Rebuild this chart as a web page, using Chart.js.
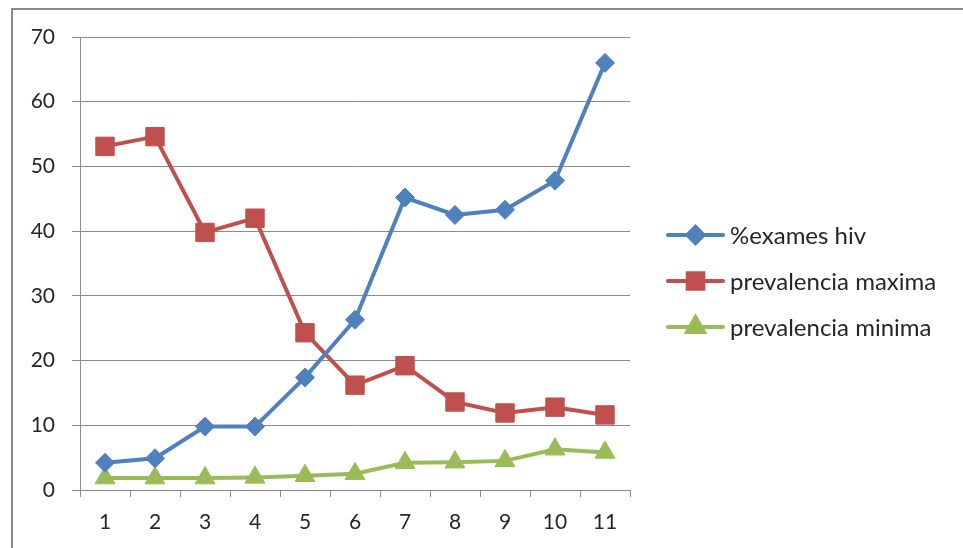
<!DOCTYPE html>
<html>
<head>
<meta charset="utf-8">
<script src="https://cdn.jsdelivr.net/npm/chart.js@4"></script>
<style>
  html, body { margin: 0; padding: 0; background: #ffffff; }
  #wrap { width: 963px; height: 548px; }
</style>
</head>
<body>
<div id="wrap"><canvas id="chart" width="963" height="548"></canvas></div>
<script>
// Categories on the x axis
const categories = ['1', '2', '3', '4', '5', '6', '7', '8', '9', '10', '11'];

// Series values
const examesHiv = [4.2, 4.9, 9.8, 9.8, 17.4, 26.3, 45.2, 42.5, 43.3, 47.8, 66.0];
const prevalenciaMaxima = [53.1, 54.6, 39.8, 42.0, 24.3, 16.2, 19.2, 13.6, 11.9, 12.8, 11.6];
const prevalenciaMinima = [1.85, 1.85, 1.85, 1.95, 2.2, 2.5, 4.2, 4.3, 4.5, 6.3, 5.8];

// Series names
const seriesNames = ['%exames hiv', 'prevalencia maxima', 'prevalencia minima'];

// Y axis tick range
const yMin = 0, yMax = 70, yStep = 10;

const FONT = 'Lato, "Open Sans", sans-serif';
const TEXT = '#262626';
const GRID = '#8c8c8c';

const COLORS = ['#4F81BD', '#C0504D', '#9BBB59'];
const STYLES = ['rectRot', 'rect', 'triangle'];
const RADII = [9.5, 13, 11.5];

function makeSet(i, data) {
  return {
    label: seriesNames[i],
    data: data,
    borderColor: COLORS[i],
    backgroundColor: COLORS[i],
    borderWidth: 4,
    pointStyle: STYLES[i],
    pointRadius: RADII[i],
    pointHoverRadius: RADII[i],
    pointBackgroundColor: COLORS[i],
    pointBorderColor: COLORS[i],
    pointBorderWidth: 1,
    tension: 0,
    fill: false
  };
}

// Outer chart frame
const framePlugin = {
  id: 'frame',
  beforeDraw(chart) {
    const ctx = chart.ctx;
    ctx.save();
    ctx.strokeStyle = '#8a8a8a';
    ctx.lineWidth = 2;
    ctx.strokeRect(12, 9, 2000, 2000);
    ctx.restore();
  }
};

// Legend with a line sample and a marker for each series
const sideLegend = {
  id: 'sideLegend',
  afterDraw(chart) {
    const ctx = chart.ctx;
    const x0 = 668, x1 = 723, textX = 730;
    const rows = [235, 281, 327];
    ctx.save();
    chart.data.datasets.forEach((ds, i) => {
      const y = rows[i];
      ctx.strokeStyle = ds.borderColor;
      ctx.lineWidth = 4;
      ctx.lineCap = 'round';
      ctx.beginPath();
      ctx.moveTo(x0, y);
      ctx.lineTo(x1, y);
      ctx.stroke();
      ctx.fillStyle = ds.borderColor;
      Chart.helpers.drawPoint(ctx, {
        pointStyle: ds.pointStyle,
        radius: ds.pointRadius * 0.85,
        rotation: 0,
        borderWidth: 1
      }, (x0 + x1) / 2, y);
      ctx.fillStyle = TEXT;
      ctx.font = '24px ' + FONT;
      ctx.textBaseline = 'middle';
      ctx.textAlign = 'left';
      ctx.fillText(ds.label, textX, y + 1);
    });
    ctx.restore();
  }
};

new Chart(document.getElementById('chart'), {
  type: 'line',
  data: {
    labels: categories,
    datasets: [
      makeSet(0, examesHiv),
      makeSet(1, prevalenciaMaxima),
      makeSet(2, prevalenciaMinima)
    ]
  },
  options: {
    responsive: false,
    animation: false,
    layout: { padding: { left: 0, right: 333, top: 37, bottom: 0 } },
    plugins: {
      legend: { display: false },
      tooltip: { enabled: false }
    },
    scales: {
      x: {
        offset: true,
        grid: {
          offset: true,
          drawOnChartArea: false,
          drawTicks: true,
          tickLength: 7,
          color: GRID,
          lineWidth: 1
        },
        border: { display: true, color: GRID, width: 1 },
        ticks: {
          color: TEXT,
          font: { family: FONT, size: 21 },
          padding: 13,
          maxRotation: 0
        },
        afterFit(scale) { scale.height = 58; }
      },
      y: {
        min: yMin,
        max: yMax,
        ticks: {
          stepSize: yStep,
          color: TEXT,
          font: { family: FONT, size: 21 },
          padding: 17
        },
        grid: {
          color: GRID,
          lineWidth: 1,
          drawTicks: true,
          tickLength: 8
        },
        border: { display: true, color: GRID, width: 1 },
        afterFit(scale) { scale.width = 80; }
      }
    }
  },
  plugins: [framePlugin, sideLegend]
});
</script>
</body>
</html>
